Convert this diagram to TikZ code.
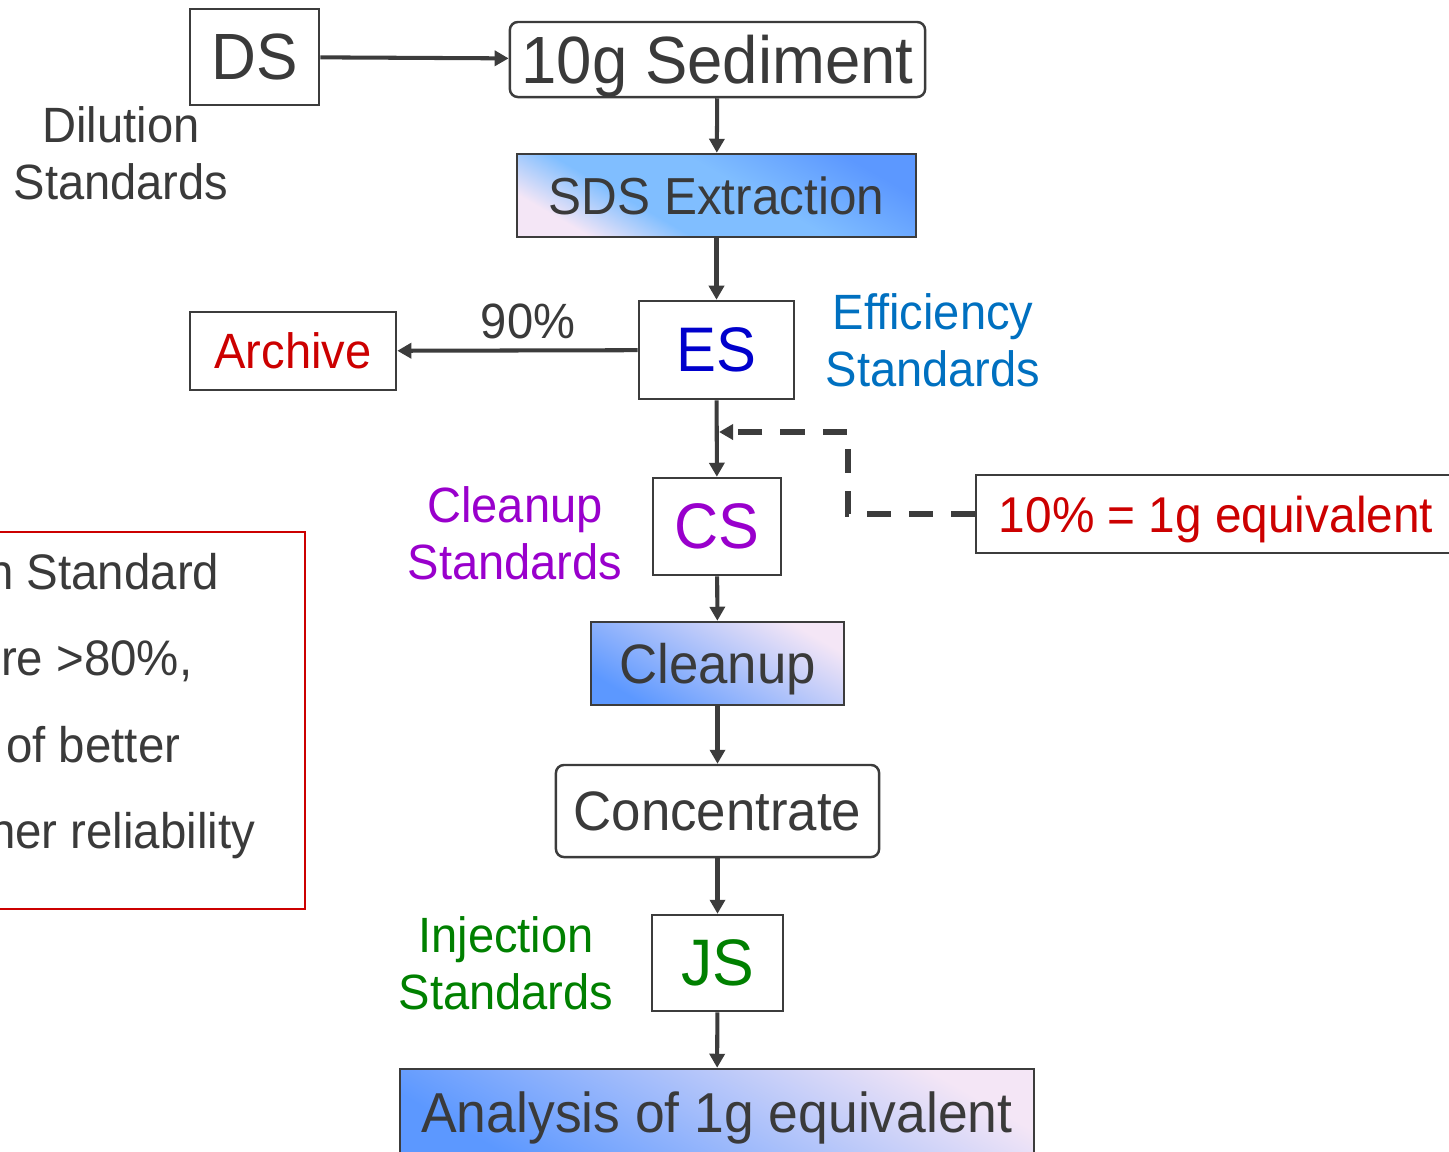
\documentclass[tikz,border=0pt]{standalone}
\usepackage{fontspec}
\setmainfont{Liberation Sans}[FakeStretch=0.95]
\usetikzlibrary{positioning,arrows.meta}
\definecolor{inkgray}{RGB}{58,58,58}
\definecolor{linegray}{RGB}{60,60,60}
\definecolor{archred}{RGB}{204,0,0}
\definecolor{esblue}{RGB}{0,0,204}
\definecolor{effblue}{RGB}{0,112,192}
\definecolor{cspurple}{RGB}{153,0,204}
\definecolor{jsgreen}{RGB}{0,128,0}
\definecolor{gradpink}{RGB}{244,230,246}
\definecolor{gradmid}{RGB}{128,190,255}
\definecolor{gradblue}{RGB}{92,152,255}
\pgfdeclareverticalshading{pinkblue}{100bp}{color(0bp)=(gradblue); color(25bp)=(gradblue); color(45bp)=(gradmid); color(62bp)=(gradmid); color(75bp)=(gradpink); color(100bp)=(gradpink)}
\tikzset{%
	box/.style={%
		draw=linegray,
		line width=0.7pt,
		inner sep=0pt,
		text depth=0pt
	},
	roundbox/.style={box, rounded corners=0.08cm},
	shadebox/.style={box, shading=pinkblue, shading angle=150},
	shadeboxrev/.style={box, left color=gradblue, middle color=gradmid, right color=gradpink, shading angle=150},
	flow/.style={draw=linegray, line width=1.15pt, -{Triangle[length=0.14cm,width=0.15cm]}},
	backflow/.style={flow, line width=1.45pt, dash pattern=on 0.24cm off 0.18cm},
	tag/.style={align=center, inner sep=0pt, font=\fontsize{14.1}{16.3}\selectfont},
	notetext/.style={inner sep=0pt, font=\fontsize{14.2}{18}\selectfont}
}

\begin{document}
\begin{tikzpicture}[x=0.01cm, y=-0.01cm, every node/.style={text=inkgray}]
    \useasboundingbox (0,0) rectangle (1449,1151);
        % main line
        \node [box, minimum width=1.29cm, minimum height=0.96cm, font=\fontsize{18.6}{24}\selectfont] (ds) at (254.5,57) {DS};
        \node [roundbox, minimum width=4.15cm, minimum height=0.75cm, font=\fontsize{19}{24}\selectfont] (sed) at (717.5,59.5) {10g Sediment};
        \node [shadebox, minimum width=3.99cm, minimum height=0.83cm, font=\fontsize{14.8}{20}\selectfont] (sds) at (716.5,195.5) {SDS Extraction};
        \node [box, minimum width=1.55cm, minimum height=0.98cm, text=esblue, font=\fontsize{17.9}{24}\selectfont] (es) at (716.5,350) {ES};
        \node [box, minimum width=2.06cm, minimum height=0.78cm, text=archred, font=\fontsize{14.1}{20}\selectfont] (arch) at (293,351) {Archive};
        \node [box, minimum width=1.28cm, minimum height=0.97cm, text=cspurple, font=\fontsize{18.3}{24}\selectfont] (cs) at (717,526.5) {CS};
        \node [box, minimum width=4.8cm, minimum height=0.78cm, text=archred, font=\fontsize{14.3}{20}\selectfont] (eq) at (1216,514) {10\% = 1g equivalent};
        \node [shadeboxrev, minimum width=2.53cm, minimum height=0.83cm, font=\fontsize{15.8}{20}\selectfont] (clean) at (717.5,663.5) {Cleanup};
        \node [roundbox, minimum width=3.23cm, minimum height=0.92cm, font=\fontsize{15.8}{20}\selectfont] (conc) at (717.5,811) {Concentrate};
        \node [box, minimum width=1.31cm, minimum height=0.96cm, text=jsgreen, font=\fontsize{18.7}{24}\selectfont] (js) at (717.5,963) {JS};
        \node [shadeboxrev, minimum width=6.34cm, minimum height=0.86cm, font=\fontsize{16}{20}\selectfont] (ana) at (717,1112) {Analysis of 1g equivalent};

        % side labels
        \node [tag] (dil) at (121,153) {Dilution\\Standards};
        \node [tag, text=effblue] (eff) at (933,340) {Efficiency\\Standards};
        \node [tag, text=cspurple] (cln) at (515,533) {Cleanup\\Standards};
        \node [tag, text=jsgreen] (inj) at (506,963.5) {Injection\\Standards};
        \node [tag] (pct) at (528,321) {90\%};

        % note box, cut at the left edge
        \node [draw=archred, line width=0.6pt, minimum width=3.25cm, minimum height=3.77cm] (note) at (142.5,720.5) {};
        \node [notetext, anchor=base east] (note1) at (220,589) {n Standard};
        \node [notetext, anchor=base east] (note2) at (193,675) {re >80\%,};
        \node [notetext, anchor=base east] (note3) at (181,762) {of better};
        \node [notetext, anchor=base east] (note4) at (256,848) {her reliability};

        \draw [flow] (ds) -- (sed);
        \draw [flow] (sed) -- (sds);
        \draw [flow] (sds) -- (es);
        \draw [flow] (es) -- (arch);
        \draw [flow] (es) -- (cs);
        \draw [flow] (cs) -- (clean);
        \draw [flow] (clean) -- (conc);
        \draw [flow] (conc) -- (js);
        \draw [flow] (js) -- (ana);

        \coordinate (join) at (719,432);
        \coordinate (turn) at (848,432);
        \draw [backflow] (eq.west) -| (turn) -- (join);
    \end{tikzpicture}
\end{document}
